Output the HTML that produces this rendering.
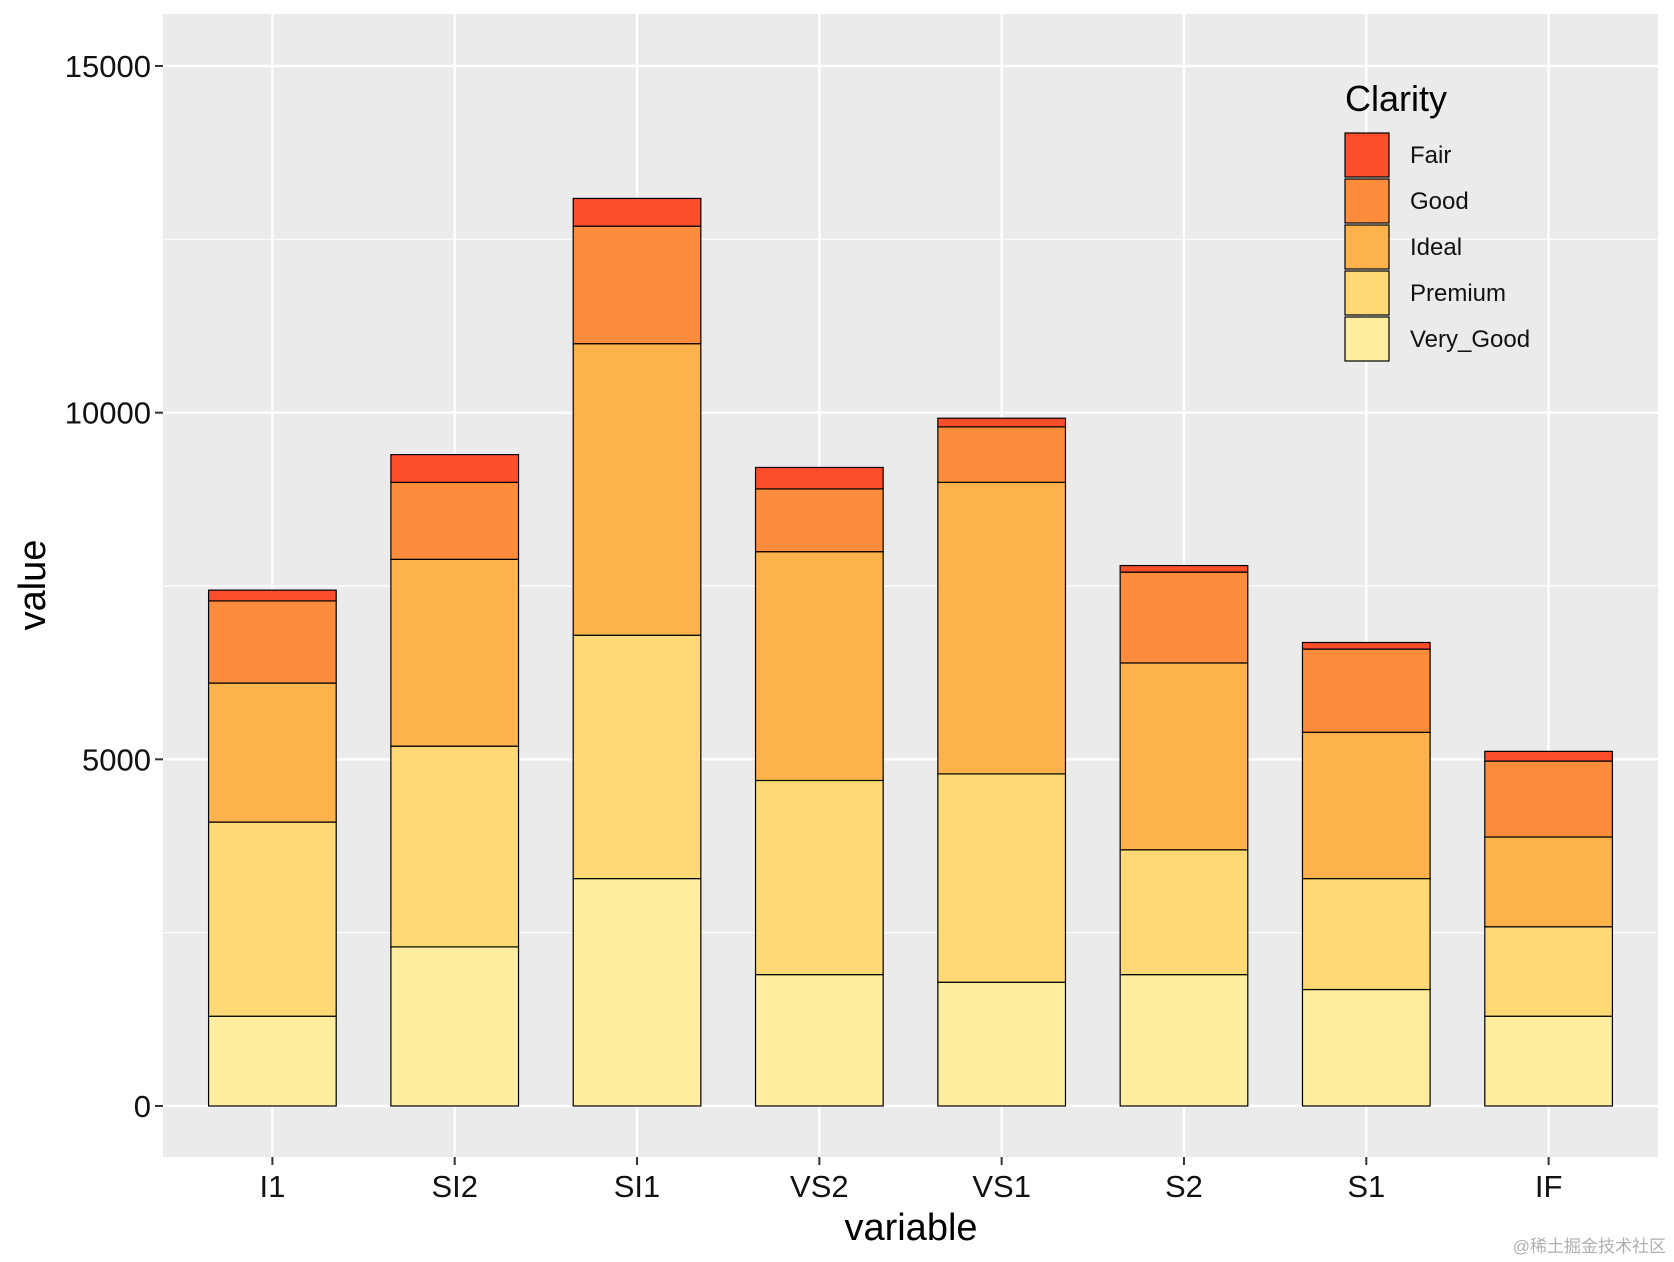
<!DOCTYPE html>
<html><head><meta charset="utf-8"><style>
body{margin:0;background:#fff;}
svg{display:block;font-family:"Liberation Sans",Arial,sans-serif;}
</style></head><body>
<svg id="chart" width="1674" height="1262" viewBox="0 0 1674 1262">
<rect x="163" y="14" width="1495" height="1143" fill="#EBEBEB"/>
<g id="grid"></g>
<g id="bars"></g>
<g id="axes"></g>
<text transform="translate(45,585) rotate(-90)" text-anchor="middle" font-size="38">value</text>
<text x="911" y="1240" text-anchor="middle" font-size="38">variable</text>
<g>
<text x="1345" y="111" font-size="36">Clarity</text>
<g id="legend"></g>
</g>
<text x="1666" y="1252" text-anchor="end" font-size="17" fill="#b0b0b0" font-family="'Liberation Sans','Noto Sans CJK SC',sans-serif">@稀土掘金技术社区</text>
</svg>
<script>
const categories=["I1","SI2","SI1","VS2","VS1","S2","S1","IF"];
const seriesNames=["Very_Good","Premium","Ideal","Good","Fair"];
const veryGood=[1295,2295,3280,1895,1785,1895,1680,1295];
const premium=[2800,2895,3510,2800,3005,1800,1600,1290];
const ideal=[2005,2695,4205,3300,4205,2695,2110,1295];
const good=[1185,1110,1695,905,800,1310,1200,1095];
const fair=[155,400,400,310,125,95,95,140];
const yTicks=[0,5000,10000,15000];
const colors={"Very_Good":"#FFEDA0","Premium":"#FED976","Ideal":"#FEB24C","Good":"#FD8D3C","Fair":"#FC4E2A"};
const series=[veryGood,premium,ideal,good,fair];
const NS="http://www.w3.org/2000/svg";
const pl=163,pr=1658,pt=14,pb=1157;
const y0=1106,yPer=(1106-66)/15000;
function y(v){return y0-v*yPer;}
const step=(pr-pl)/(categories.length-1+1.2);
function x(i){return pl+0.6*step+i*step;}
const bw=step*0.7;
function mk(t,a,p){const e=document.createElementNS(NS,t);for(const k in a)e.setAttribute(k,a[k]);p.appendChild(e);return e;}
const grid=document.getElementById('grid'),bars=document.getElementById('bars'),axes=document.getElementById('axes'),leg=document.getElementById('legend');
// minor grid
for(let i=0;i<yTicks.length;i++){
  const mv=yTicks[i]+2500;const yy=y(mv);
  if(yy>pt){const l=mk('line',{x1:pl,x2:pr,y1:yy,y2:yy,stroke:'#fff','stroke-width':1.2},grid);
  
  }
}
yTicks.forEach(v=>{
  const yy=y(v);
  const l=mk('line',{x1:pl,x2:pr,y1:yy,y2:yy,stroke:'#fff','stroke-width':2.4},grid);
  
  
  const t=mk('line',{x1:pl-8,x2:pl,y1:yy,y2:yy,stroke:'#333','stroke-width':2},axes);
  
  
  const tx=mk('text',{x:pl-12,y:yy+11,'text-anchor':'end','font-size':31,fill:'#111'},axes);
  tx.textContent=v;
  
  
});
categories.forEach((c,i)=>{
  const xx=x(i);
  const l=mk('line',{x1:xx,x2:xx,y1:pt,y2:pb,stroke:'#fff','stroke-width':2.4},grid);
  
  
  const t=mk('line',{x1:xx,x2:xx,y1:pb,y2:pb+8,stroke:'#333','stroke-width':2},axes);
  
  
  const tx=mk('text',{x:xx,y:1197,'text-anchor':'middle','font-size':31,fill:'#111'},axes);
  tx.textContent=c;
  
  
  let cum=0;
  series.forEach((s,k)=>{
    const v=s[i];
    const r=mk('rect',{x:xx-bw/2,y:y(cum+v),width:bw,height:v*yPer,fill:colors[seriesNames[k]],stroke:'#000','stroke-width':1.2},bars);
    
    
    cum+=v;
  });
});
["Fair","Good","Ideal","Premium","Very_Good"].forEach((n,i)=>{
  const yy=133+i*46;
  const r=mk('rect',{x:1345,y:yy,width:44,height:44,fill:colors[n],stroke:'#000','stroke-width':1.2},leg);
  
  
  const t=mk('text',{x:1410,y:yy+30,'font-size':24,fill:'#111'},leg);
  t.textContent=n;
  
  
});
</script>
</body></html>
